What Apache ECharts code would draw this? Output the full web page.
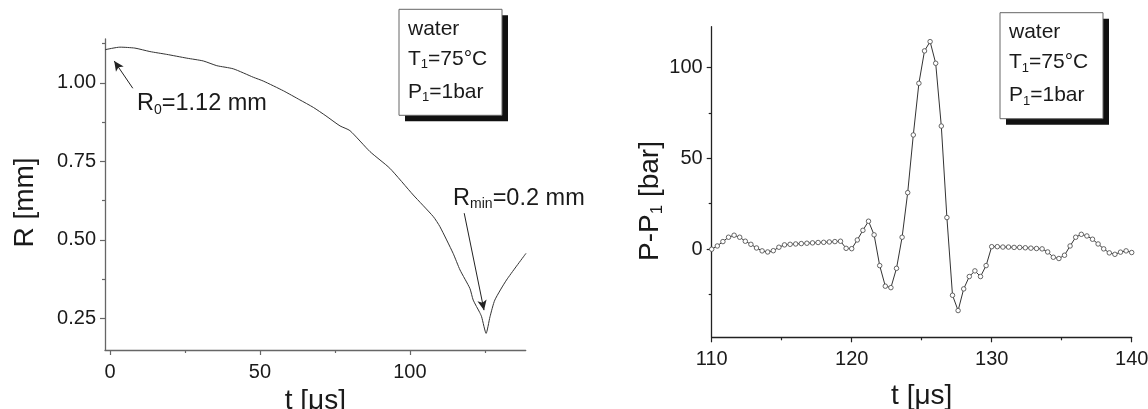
<!DOCTYPE html>
<html><head><meta charset="utf-8">
<script src="https://cdn.jsdelivr.net/npm/echarts@6/dist/echarts.min.js"></script>
<style>html,body{margin:0;padding:0;background:#fff}#c{width:1148px;height:409px}</style>
</head><body><div id="c"></div>
<script>
const FONT = '"Liberation Sans", Arial, Helvetica, sans-serif';

// ---- Left panel: bubble radius R [mm] vs t [µs]
const radiusTime  = [-1.6, 3.3, 8.3, 13.3, 18.9, 25.6, 31.1, 35.6, 41.1, 47.8, 51.1, 57.8, 63.3, 67.8, 72.0, 76.7, 80.0, 86.7, 93.3, 101.1, 107.8, 110.0, 114.4, 116.7, 120.0, 121.1, 123.3, 123.9, 125.4, 126.7, 128.3, 132.2, 138.7];
const radiusValue = [1.106, 1.114, 1.111, 1.100, 1.091, 1.079, 1.070, 1.055, 1.045, 1.018, 1.006, 0.975, 0.946, 0.922, 0.895, 0.863, 0.848, 0.781, 0.728, 0.643, 0.574, 0.542, 0.457, 0.404, 0.345, 0.308, 0.268, 0.255, 0.202, 0.255, 0.308, 0.372, 0.457];
const radiusXTicks = [0, 50, 100];
const radiusXMinor = [25, 75, 125];
const radiusYTicks = [0.25, 0.50, 0.75, 1.00];
const radiusYMinor = [0.375, 0.625, 0.875, 1.125];

// ---- Right panel: P-P1 [bar] vs t [µs]
const pressureTime = [110.0,110.4,110.8,111.2,111.6,112.0,112.4,112.8,113.2,113.6,114.0,114.4,114.8,115.2,115.6,116.0,116.4,116.8,117.2,117.6,118.0,118.4,118.8,119.2,119.6,120.0,120.4,120.8,121.2,121.6,122.0,122.4,122.8,123.2,123.6,124.0,124.4,124.8,125.2,125.6,126.0,126.4,126.8,127.2,127.6,128.0,128.4,128.8,129.2,129.6,130.0,130.4,130.8,131.2,131.6,132.0,132.4,132.8,133.2,133.6,134.0,134.4,134.8,135.2,135.6,136.0,136.4,136.8,137.2,137.6,138.0,138.4,138.8,139.2,139.6,140.0];
const pressureValue = [0,1.8,4.2,6.6,7.7,6.6,4.4,2.7,0.7,-0.9,-1.5,-0.8,1.1,2.4,2.7,2.9,3.1,3.3,3.5,3.7,3.8,4.0,4.2,4.4,0.5,0.3,5.1,10.4,15.4,7.9,-9.0,-20.3,-21.1,-10.5,6.6,31.1,62.8,91.2,109.0,114.1,102.2,67.7,17.4,-25.3,-33.7,-21.8,-15.0,-11.9,-15.0,-9.0,1.4,1.4,1.2,1.2,1.0,1.0,0.8,0.6,0.4,0.2,-1.5,-4.4,-5.1,-3.3,1.8,6.6,8.2,7.3,5.5,2.9,0.2,-2.0,-2.8,-1.6,-0.9,-1.8];
const pressureXTicks = [110, 120, 130, 140];
const pressureXMinor = [115, 125, 135];
const pressureYTicks = [0, 50, 100];
const pressureYMinor = [-25, 25, 75];

// ---- Texts
const xAxisTitle = 't [\u03bcs]';
const radiusAxisTitle = 'R [mm]';
const pressureAxisTitle = 'P-P{s|1} [bar]';
const infoLines = ['water', 'T{s|1}=75\u00b0C', 'P{s|1}=1bar'];
const r0Label = 'R{s|0}=1.12 mm';
const rminLabel = 'R{s|min}=0.2 mm';

const TXT = '#1a1a1a';
const TICK_FS = 20;

function ax(opt) { return Object.assign({ type: 'value', splitLine: { show: false }, scale: true }, opt); }

function majorAxis(dim, grid, min, max, ticks, color, extra) {
  return ax(Object.assign({
    gridIndex: grid, min: min, max: max,
    position: dim === 'x' ? 'bottom' : 'left',
    axisLine: { show: true, onZero: false, lineStyle: { color: color, width: 1.3 } },
    axisTick: { show: true, inside: false, length: 5, customValues: ticks, lineStyle: { color: color, width: 1.2 } },
    axisLabel: { show: true, customValues: ticks, margin: dim === 'x' ? 12 : 9, fontSize: TICK_FS, fontFamily: FONT, color: TXT },
    nameTextStyle: { fontSize: 28, fontFamily: FONT, color: TXT }
  }, extra || {}));
}
function minorAxis(dim, grid, min, max, ticks, color) {
  return ax({
    gridIndex: grid, min: min, max: max,
    position: dim === 'x' ? 'bottom' : 'left',
    axisLine: { show: false, onZero: false },
    axisTick: { show: true, inside: false, length: 3, customValues: ticks, lineStyle: { color: color, width: 1.2 } },
    axisLabel: { show: false }
  });
}

const LX = [-1.67, 138.6], LY = [0.149, 1.140];
const RX = [110, 140], RY = [-48.4, 122.3];
const leftColor = '#666', rightColor = '#222';

const subRich = { s: { fontSize: 14, lineHeight: 14, verticalAlign: 'bottom', fontFamily: FONT, color: TXT } };

const option = {
  backgroundColor: '#fff',
  animation: false,
  grid: [
    { left: 105, top: 39, width: 420.7, height: 311, containLabel: false, outerBoundsMode: 'none' },
    { left: 711.7, top: 26.7, width: 420, height: 310.6, containLabel: false, outerBoundsMode: 'none' }
  ],
  xAxis: [
    majorAxis('x', 0, LX[0], LX[1], radiusXTicks, leftColor, {
      name: xAxisTitle, nameLocation: 'middle', nameGap: 24
    }),
    minorAxis('x', 0, LX[0], LX[1], radiusXMinor, leftColor),
    majorAxis('x', 1, RX[0], RX[1], pressureXTicks, rightColor, {
      name: xAxisTitle, nameLocation: 'middle', nameGap: 45
    }),
    minorAxis('x', 1, RX[0], RX[1], pressureXMinor, rightColor)
  ],
  yAxis: [
    majorAxis('y', 0, LY[0], LY[1], radiusYTicks, leftColor, {
      name: radiusAxisTitle, nameLocation: 'middle', nameGap: 66,
      axisLabel: { show: true, customValues: radiusYTicks, margin: 9, fontSize: TICK_FS, fontFamily: FONT, color: TXT,
        formatter: v => v.toFixed(2) },
      nameTextStyle: { fontSize: 28, fontFamily: FONT, color: TXT, padding: [0, 16, 0, 0] }
    }),
    minorAxis('y', 0, LY[0], LY[1], radiusYMinor, leftColor),
    majorAxis('y', 1, RY[0], RY[1], pressureYTicks, rightColor, {
      name: pressureAxisTitle, nameLocation: 'middle', nameGap: 44,
      nameTextStyle: { fontSize: 28, fontFamily: FONT, color: TXT, lineHeight: 30, padding: [0, 38, 0, 0],
        rich: { s: { fontSize: 17, lineHeight: 17, verticalAlign: 'bottom', fontFamily: FONT, color: TXT } } }
    }),
    minorAxis('y', 1, RY[0], RY[1], pressureYMinor, rightColor)
  ],
  series: [
    {
      type: 'line', xAxisIndex: 0, yAxisIndex: 0, showSymbol: false, symbol: 'none', smooth: 0.2,
      data: radiusTime.map((t, i) => [t, radiusValue[i]]),
      lineStyle: { color: '#333', width: 1 },
      markLine: {
        silent: true, symbol: ['none', 'arrow'], symbolSize: [7, 10],
        label: { show: false },
        lineStyle: { color: '#222', width: 1, type: 'solid' },
        data: [
          [{ coord: [7.6, 0.983] }, { coord: [1.4, 1.07] }],
          [{ coord: [118.1, 0.585] }, { coord: [124.7, 0.276] }]
        ]
      },
      markPoint: {
        silent: true, symbol: 'circle', symbolSize: 0,
        label: {
          show: true, position: 'right', distance: 0, fontSize: 23.5, fontFamily: FONT, color: TXT, lineHeight: 26,
          rich: subRich
        },
        data: [
          { coord: [9, 0.933], value: 0, label: { formatter: r0Label } },
          { coord: [114.4, 0.633], value: 0, label: { formatter: rminLabel } }
        ]
      }
    },
    {
      type: 'line', xAxisIndex: 2, yAxisIndex: 2,
      data: pressureTime.map((t, i) => [t, pressureValue[i]]),
      symbol: 'circle', symbolSize: 4.5, showSymbol: true,
      itemStyle: { color: '#fff', borderColor: '#555', borderWidth: 0.9 },
      lineStyle: { color: '#333', width: 1 }
    }
  ],
  graphic: []
};

function infoBox(x, y) {
  const w = 103, h = 106, off = 6;
  const els = [
    { type: 'rect', shape: { x: x + off, y: y + off, width: w, height: h }, style: { fill: '#111' }, silent: true },
    { type: 'rect', shape: { x: x, y: y, width: w, height: h }, style: { fill: '#fff', stroke: '#666', lineWidth: 1 }, silent: true }
  ];
  const baselines = [20, 50, 83];
  infoLines.forEach((t, i) => {
    els.push({
      type: 'text', x: x + 9, y: y + baselines[i], silent: true,
      style: { text: t, fontSize: 21, fontFamily: FONT, fill: TXT, lineHeight: 24, verticalAlign: 'middle', align: 'left',
        rich: { s: { fontSize: 13, lineHeight: 13, verticalAlign: 'bottom', fontFamily: FONT, fill: TXT } } }
    });
  });
  return els;
}
option.graphic = infoBox(399, 9.3).concat(infoBox(1000, 12.7));

const chart = echarts.init(document.getElementById('c'), null, { renderer: 'canvas' });
chart.setOption(option);
</script>
</body></html>
